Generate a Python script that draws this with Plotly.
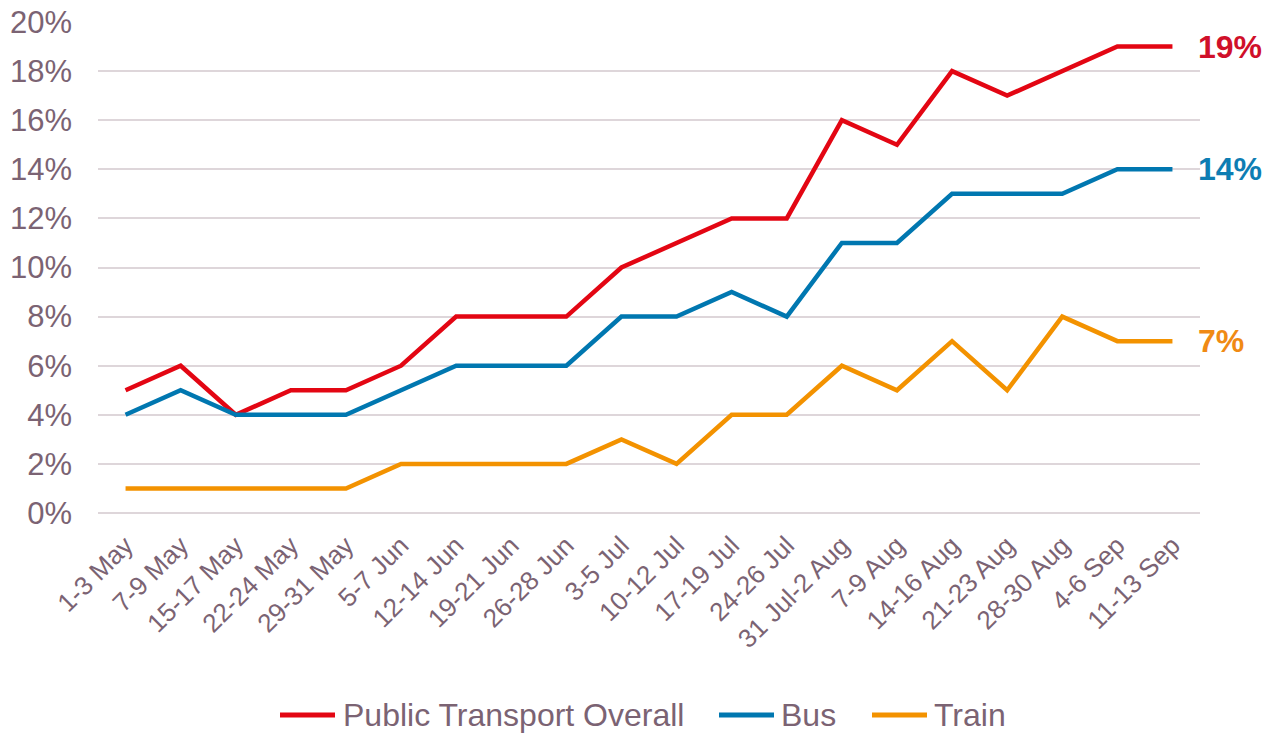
import plotly.graph_objects as go

categories = ["1-3 May", "7-9 May", "15-17 May", "22-24 May", "29-31 May", "5-7 Jun",
              "12-14 Jun", "19-21 Jun", "26-28 Jun", "3-5 Jul", "10-12 Jul", "17-19 Jul",
              "24-26 Jul", "31 Jul-2 Aug", "7-9 Aug", "14-16 Aug", "21-23 Aug",
              "28-30 Aug", "4-6 Sep", "11-13 Sep"]
overall = [5, 6, 4, 5, 5, 6, 8, 8, 8, 10, 11, 12, 12, 16, 15, 18, 17, 18, 19, 19]
bus = [4, 5, 4, 4, 4, 5, 6, 6, 6, 8, 8, 9, 8, 11, 11, 13, 13, 13, 14, 14]
train = [1, 1, 1, 1, 1, 2, 2, 2, 2, 3, 2, 4, 4, 6, 5, 7, 5, 8, 7, 7]
y_ticks = [0, 2, 4, 6, 8, 10, 12, 14, 16, 18, 20]

series = [
    ("Public Transport Overall", overall, "#E30613", "#D0102A"),
    ("Bus", bus, "#0077B0", "#0E7DB3"),
    ("Train", train, "#F39200", "#F08A14"),
]

TXT = "#7B6373"
FONT = "Liberation Sans, Arial, sans-serif"

# the page body has an 8px margin: lay out in page pixels, then shift
OFF = 8
W, H = 1276 - OFF, 733 - OFF
PL, PR, PT, PB = 98, 1200, 22, 513          # plot area in page pixels
ML, MT = PL - OFF, PT - OFF
MR, MB = (1276 - OFF) - (PR - OFF), (733 - OFF) - (PB - OFF)
PW, PH = PR - PL, PB - PT


def px_x(p):
    return (p - PL) / PW


def px_y(p):
    return (PB - p) / PH


fig = go.Figure()
for name, vals, col, _ in series:
    fig.add_trace(go.Scatter(
        x=list(range(len(categories))), y=[v / 100 for v in vals], name=name,
        mode="lines", line=dict(color=col, width=4.5), showlegend=False,
    ))

for name, vals, col, lcol in series:
    fig.add_annotation(
        x=len(categories) - 1, y=vals[-1] / 100, xref="x", yref="y",
        text="<b>%d%%</b>" % vals[-1], showarrow=False, xanchor="left",
        yanchor="middle", xshift=24,
        font=dict(family=FONT, size=32, color=lcol),
    )

# custom legend (line swatch + text) below the chart
legend_pos = [(280, 341), (719, 779), (872, 932)]
LEG_Y = 715
for (name, _, col, _), (lx, tx) in zip(series, legend_pos):
    fig.add_shape(type="line", xref="paper", yref="paper",
                  x0=px_x(lx), x1=px_x(lx + 55), y0=px_y(LEG_Y), y1=px_y(LEG_Y),
                  line=dict(color=col, width=5))
    fig.add_annotation(x=px_x(tx), y=px_y(LEG_Y), xref="paper", yref="paper",
                       text=name, showarrow=False, xanchor="left", yanchor="middle",
                       font=dict(family=FONT, size=32, color=TXT))

fig.update_layout(
    width=W, height=H,
    margin=dict(l=ML, r=MR, t=MT, b=MB, autoexpand=False),
    paper_bgcolor="white", plot_bgcolor="white",
    font=dict(family=FONT, color=TXT),
    showlegend=False,
    xaxis=dict(
        tickmode="array", tickvals=list(range(len(categories))), ticktext=categories,
        range=[-0.5, len(categories) - 0.5], tickangle=-45,
        showgrid=False, zeroline=False, showline=False, automargin=False,
        ticklabelstandoff=11, ticklabeloverflow="allow",
        tickfont=dict(family=FONT, size=26, color=TXT),
    ),
    yaxis=dict(
        range=[0, 0.2], tickmode="array", tickvals=[t / 100 for t in y_ticks],
        ticktext=["%d%%" % t for t in y_ticks],
        showgrid=True, gridcolor="#DED6DA", gridwidth=1.5,
        zeroline=True, zerolinecolor="#DED6DA", zerolinewidth=1.5,
        showline=False, ticklabelstandoff=25, automargin=False,
        ticklabeloverflow="allow",
        tickfont=dict(family=FONT, size=31, color=TXT),
    ),
)

fig.write_html("out.html")
